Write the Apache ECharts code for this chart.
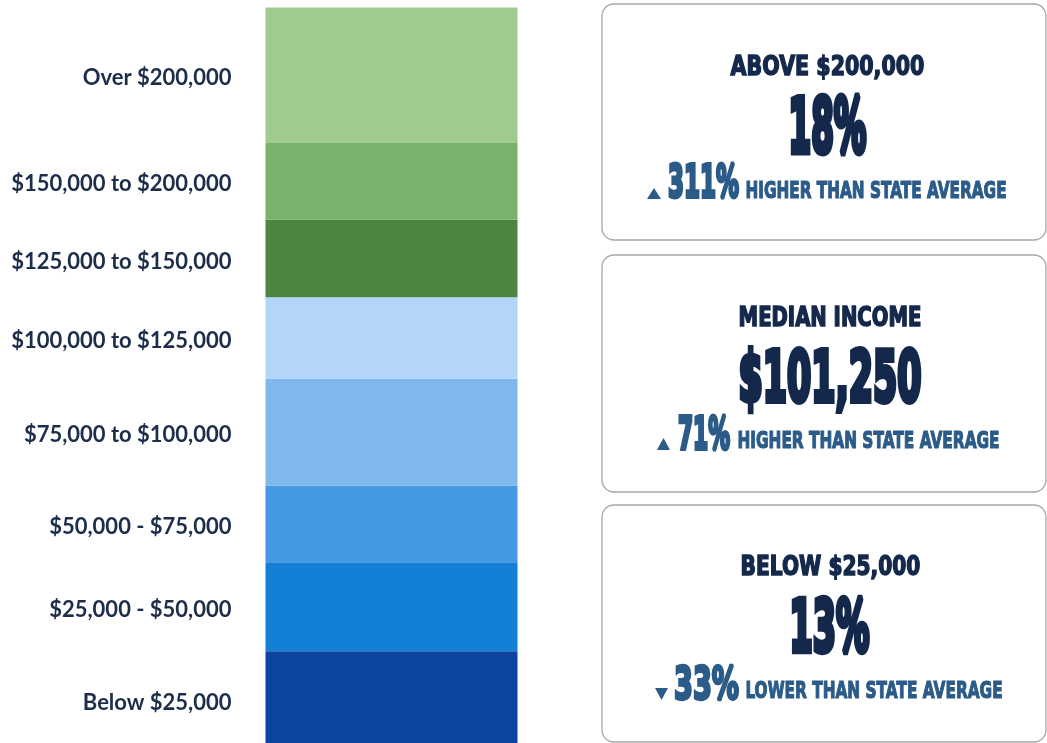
<!DOCTYPE html>
<html>
<head>
<meta charset="utf-8">
<script src="https://cdn.jsdelivr.net/npm/echarts@6/dist/echarts.min.js"></script>
<style>
html,body{margin:0;padding:0;background:#fff;}
#chart{width:1047px;height:743px;}
</style>
</head>
<body>
<div id="chart"></div>
<script>
// ---- data ----
const categories = ['Below $25,000', '$25,000 - $50,000', '$50,000 - $75,000', '$75,000 to $100,000',
  '$100,000 to $125,000', '$125,000 to $150,000', '$150,000 to $200,000', 'Over $200,000'];
const shares = [13, 11.8, 10.2, 14.2, 10.8, 10.3, 10.2, 18];
const cardTitles = ['ABOVE $200,000', 'MEDIAN INCOME', 'BELOW $25,000'];
const cardValues = ['18%', '$101,250', '13%'];
const cardChanges = ['311%', '71%', '33%'];
const cardDirections = ['up', 'up', 'down'];
const cardPhrases = ['HIGHER THAN STATE AVERAGE', 'HIGHER THAN STATE AVERAGE', 'LOWER THAN STATE AVERAGE'];

// ---- styles ----
const segColors = ['#0b45a0', '#1380d6', '#4599e2', '#80b8ee', '#b2d5f9', '#4b853f', '#78b36b', '#9fcb8c'];
const total = shares.reduce((a, b) => a + b, 0);

const cv = document.createElement('canvas');
const cx = cv.getContext('2d');
const HEAD = 'DejaVu Sans';
function fontStr(size) { return 'bold ' + size + 'px "' + HEAD + '"'; }
// text placed by left edge, target width and cap-height box
function fitText(text, left, right, capTop, capBottom, color, sw) {
  const capH = capBottom - capTop - sw;
  const size = capH / 0.729;
  const f = fontStr(size);
  cx.font = f;
  cx.textBaseline = 'middle';
  const m = cx.measureText(text);
  const hm = cx.measureText('H');
  const w = m.width;
  const asc = hm.actualBoundingBoxAscent, desc = hm.actualBoundingBoxDescent;
  const capCenter = (capTop + capBottom) / 2;
  const y = capCenter - (desc - asc) / 2;
  const sx = (right - left - sw) / w;
  return {
    type: 'text', x: left + sw / 2, y: y, scaleX: sx, scaleY: 1,
    style: { text: text, font: f, fill: color, stroke: sw > 0 ? color : null, lineWidth: sw / sx,
      align: 'left', verticalAlign: 'middle', textAlign: 'left', textVerticalAlign: 'middle' },
    z: 10
  };
}

const TITLE = '#13284b';
const SUB = '#2b5b88';
const cards = [
  { y0: 4, y1: 240, title: [730, 925, 55, 75], value: [787, 868, 95, 153],
    tri: [647, 661, 188, 199], change: [667, 740, 163, 198], phrase: [745, 1007, 180, 198] },
  { y0: 255, y1: 492, title: [738, 922, 306, 326], value: [737, 923, 348, 402],
    tri: [657, 670, 438, 450], change: [677, 731, 415, 450], phrase: [737, 1000, 430, 448] },
  { y0: 505, y1: 742, title: [740, 921, 555, 575], value: [788, 871, 597, 652],
    tri: [655, 668, 688, 700], change: [673, 740, 665, 700], phrase: [745, 1003, 680, 698] }
];

const graphics = [];
cards.forEach((c, i) => {
  graphics.push({ type: 'rect', shape: { x: 602, y: c.y0, width: 444, height: c.y1 - c.y0, r: 12 },
    style: { fill: '#ffffff', stroke: '#a8a8a8', lineWidth: 1.3 }, z: 5 });
  graphics.push(fitText(cardTitles[i], ...c.title, TITLE, 1.2));
  graphics.push(fitText(cardValues[i], ...c.value, TITLE, 3));
  graphics.push(fitText(cardChanges[i], ...c.change, SUB, 2));
  graphics.push(fitText(cardPhrases[i], ...c.phrase, SUB, 0.8));
  const [l, r, t, b] = c.tri;
  const pts = cardDirections[i] === 'up'
    ? [[l, b], [r, b], [(l + r) / 2, t]]
    : [[l, t], [r, t], [(l + r) / 2, b]];
  graphics.push({ type: 'polygon', shape: { points: pts }, style: { fill: SUB }, z: 10 });
});

const series = categories.map((name, i) => ({
  name: name,
  type: 'bar',
  stack: 'income',
  barWidth: 252,
  data: [shares[i]],
  itemStyle: { color: segColors[i] },
  label: {
    show: true, position: 'left', distance: 34, offset: [0, 3], formatter: '{a}',
    fontFamily: 'Lato', fontSize: 22, fontWeight: 'bold', color: '#1c2e4a'
  }
}));

const chart = echarts.init(document.getElementById('chart'), null, { renderer: 'canvas' });
chart.setOption({
  animation: false,
  backgroundColor: '#ffffff',
  grid: { left: 265.5, top: 7.5, width: 252, height: 741.5, containLabel: false, outerBoundsMode: 'none' },
  xAxis: { type: 'category', data: ['Households'], show: false },
  yAxis: { type: 'value', min: 0, max: total, show: false },
  series: series,
  graphic: graphics
});
</script>
</body>
</html>
